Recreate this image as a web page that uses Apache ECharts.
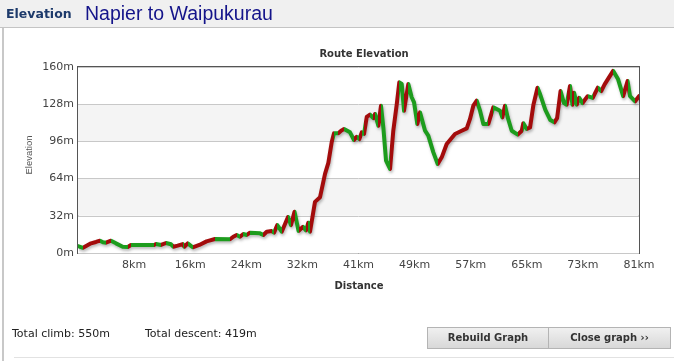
<!DOCTYPE html>
<html>
<head>
<meta charset="utf-8">
<script src="https://cdn.jsdelivr.net/npm/echarts@6/dist/echarts.min.js"></script>
<style>
  html, body { margin:0; padding:0; }
  body { width:674px; height:361px; overflow:hidden; background:#fff; position:relative; }
  .abs { position:absolute; }
  #chart { position:absolute; left:0; top:0; width:674px; height:361px; z-index:1; }
  .over { z-index:2; }
  .btn { position:absolute; top:327px; height:22px; text-align:center;
         font:bold 10px 'DejaVu Sans', sans-serif; line-height:20px; color:#333;
         background:linear-gradient(#f0f0f0,#d8d8d8); border:1px solid #b4b4b4; box-sizing:border-box; }
</style>
</head>
<body>
<div class="abs" style="left:0;top:0;width:674px;height:27px;background:#f0f0f0;border-bottom:1px solid #c4c4c4;z-index:0"></div>
<div class="abs" style="left:2px;top:28px;width:2px;height:333px;background:#c8c8c8;z-index:0"></div>
<div class="abs" style="left:14px;top:357px;width:660px;height:1px;background:#e2e2e2;z-index:0"></div>
<div class="abs over" style="left:6px;top:8px;font:bold 12.5px/12.5px 'DejaVu Sans',sans-serif;color:#1d3a6b">Elevation</div>
<div class="abs over" style="left:85px;top:4px;font:19.5px/19.5px 'Liberation Sans',Arial,sans-serif;color:#14148a">Napier to Waipukurau</div>
<div class="abs over" style="left:12px;top:327px;font:11px/14px 'DejaVu Sans',sans-serif;color:#222">Total climb: 550m</div>
<div class="abs over" style="left:145px;top:327px;font:11px/14px 'DejaVu Sans',sans-serif;color:#222">Total descent: 419m</div>
<div class="btn over" style="left:427px;width:122px">Rebuild Graph</div>
<div class="btn over" style="left:548px;width:123px">Close graph &#8250;&#8250;</div>
<div id="chart"></div>
<script>
// ---- data ----
const distanceKm = [0,0.72,1.88,2.6,3.18,3.61,4.05,4.77,5.49,6.46,7.19,7.66,10.99,11.28,12.0,12.72,13.45,13.78,14.41,15.14,15.37,15.86,16.58,17.54,18.58,19.81,21.98,22.45,22.94,23.42,23.9,24.39,24.87,26.31,26.79,27.28,28.0,28.34,28.81,29.45,30.36,30.79,31.3,31.88,32.53,32.96,33.29,33.54,34.26,34.99,35.71,36.19,36.68,37.01,37.63,38.12,38.46,39.32,39.9,40.29,40.67,41.02,41.35,41.74,42.21,42.69,42.94,43.42,43.8,44.14,44.53,45.11,45.58,46.08,46.45,46.8,47.13,47.75,48.24,48.58,49.05,49.44,49.69,50.17,50.64,51.37,52.0,52.58,53.3,54.5,55.47,56.2,56.67,57.15,57.64,58.12,58.6,59.32,60.04,61.01,61.34,61.73,62.12,62.7,63.57,64.15,64.38,64.87,65.35,65.84,66.43,66.82,67.56,68.28,68.87,69.26,69.76,70.25,70.64,71.13,71.48,71.72,72.11,72.46,72.94,73.67,74.41,75.15,75.64,76.13,77.36,78.08,78.81,79.45,79.8,80.54,81.1];
const elevationM = [6,4.5,8.3,9.5,10.6,9.2,8.9,10.6,8.3,5.4,5.2,6.9,6.9,7.7,6.9,8.6,7.5,5.4,6.3,7.7,5.4,8.3,4.9,6.9,10,12,11.8,14,15.5,14,16.3,15.5,17.5,16.9,15.5,18.3,18.9,17.5,24,18.3,31,24,35.5,19,22.5,19.5,26,18.3,44,48,68,77.5,95.5,103,103,105.5,106.7,103.8,97.2,100,98,103.8,102.4,117,119,116,119.6,109.5,126.7,108,79.4,72.3,105.2,128,146.8,145.4,122.4,145.4,134,129.6,111,121,119.6,105.2,101,86.6,76.6,82.3,93.8,102.4,105.2,107.2,115.3,126.7,131,122.4,111,111,125.3,122.4,116.7,126.7,116.7,105.2,101.8,105.2,111.6,106.7,108,127.6,142.2,136.3,123.2,114.4,112.4,116,139.3,129,127.6,143.7,127.6,137.8,127.6,133.4,129,134.9,133.4,142.2,139.3,145.1,156.7,149.4,134.9,148,134.9,130.5,134.9];
const totalDistanceKm = 81.1;
const xTickCount = 10;
const yTickValues = [0, 32, 64, 96, 128, 160];

const RED = '#a30c0c';
const GREEN = '#1d9c1d';

const points = distanceKm.map((d, i) => [d, elevationM[i]]);

// colour per segment: climbing = red, otherwise green
const pieces = [];
for (let i = 0; i < distanceKm.length - 1; i++) {
  const color = elevationM[i + 1] > elevationM[i] ? RED : GREEN;
  const last = pieces[pieces.length - 1];
  if (last && last.color === color) last.lt = distanceKm[i + 1];
  else pieces.push({ gte: distanceKm[i], lt: distanceKm[i + 1], color: color });
}
const lastPiece = pieces[pieces.length - 1];
lastPiece.lte = lastPiece.lt; delete lastPiece.lt;

const chart = echarts.init(document.getElementById('chart'), null, { renderer: 'canvas' });
chart.setOption({
  animation: false,
  backgroundColor: 'transparent',
  title: {
    text: 'Route Elevation', left: 359, top: 44, textAlign: 'center',
    textStyle: { fontFamily: 'DejaVu Sans', fontSize: 10, fontWeight: 'bold', color: '#333' }
  },
  grid: { left: 78, top: 67, width: 561, height: 186, show: true, borderColor: '#555', borderWidth: 2, backgroundColor: 'transparent', containLabel: false },
  xAxis: {
    type: 'value', min: 0, max: totalDistanceKm, interval: totalDistanceKm / xTickCount,
    axisLine: { show: false }, axisTick: { show: false }, splitLine: { show: false },
    axisLabel: { showMinLabel: false, margin: 7, color: '#444', fontFamily: 'DejaVu Sans', fontSize: 11,
      formatter: v => Math.round(v) + 'km' }
  },
  yAxis: {
    type: 'value', min: yTickValues[0], max: yTickValues[yTickValues.length - 1], interval: yTickValues[1] - yTickValues[0],
    axisLine: { show: false }, axisTick: { show: false },
    splitLine: { show: true, lineStyle: { color: '#c8c8c8', width: 1 } },
    splitArea: { show: true, areaStyle: { color: ['#ffffff', '#f4f4f4'] } },
    axisLabel: { margin: 4, color: '#444', fontFamily: 'DejaVu Sans', fontSize: 11, formatter: '{value}m' }
  },
  visualMap: { show: false, type: 'piecewise', seriesIndex: 0, dimension: 0, pieces: pieces },
  graphic: [
    { type: 'text', x: 29, y: 155, rotation: Math.PI / 2,
      style: { text: 'Elevation', fill: '#555', font: '9.5px "Liberation Sans", Arial', textAlign: 'center', textVerticalAlign: 'middle' } },
    { type: 'text', x: 359, y: 286,
      style: { text: 'Distance', fill: '#333', font: 'bold 10px "DejaVu Sans"', textAlign: 'center', textVerticalAlign: 'middle' } }
  ],
  series: [{
    type: 'line', data: points, showSymbol: false, smooth: false, z: 3,
    lineStyle: { width: 4, cap: 'round', join: 'round', shadowColor: 'rgba(0,0,0,0.28)', shadowBlur: 3, shadowOffsetX: 1, shadowOffsetY: 2 }
  }]
});
</script>
</body>
</html>
